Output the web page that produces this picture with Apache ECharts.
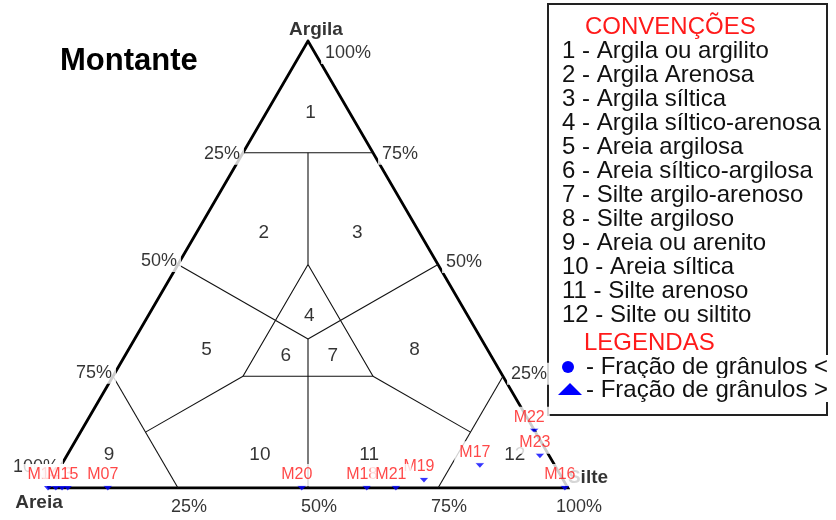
<!DOCTYPE html>
<html>
<head>
<meta charset="utf-8">
<script src="https://cdn.jsdelivr.net/npm/echarts@6/dist/echarts.min.js"></script>
<style>
  html, body { margin: 0; padding: 0; background: #fff; }
  #chart { width: 836px; height: 520px; }
</style>
</head>
<body>
<div id="chart"></div>
<script>
// Sample composition (percent sand / silt / clay)
const sampleNames = ['M12', 'M13', 'M14', 'M15', 'M07', 'M20', 'M18', 'M19', 'M21', 'M17', 'M22', 'M23', 'M16'];
const sampleSand  = [98.5, 97.3, 100, 96.2, 88.5, 51.2, 38.7, 26.8, 33.1, 14.4, 0.1, 1.8, 0.6];
const sampleSilt  = [1.5, 2.7, 0, 3.8, 11.5, 48.8, 61.3, 71.4, 66.9, 80.5, 87.1, 91.0, 99.4];
const sampleClay  = [0, 0, 0, 0, 0, 0, 0, 1.8, 0, 5.1, 12.8, 7.2, 0];

// Shepard class fields: label anchor (silt %, clay %)
const classIds   = ['1', '2', '3', '4', '5', '6', '7', '8', '9', '10', '11', '12'];
const classSilt  = [8.5, 13, 31, 31, 15, 31, 40, 55, 8, 37, 58, 86];
const classClay  = [84, 57, 57, 38.5, 31, 29.5, 29.5, 31, 7.5, 7.5, 7.5, 7.5];

// Class names for the key
const classNames = ['Argila ou argilito', 'Argila Arenosa', 'Argila síltica', 'Argila síltico-arenosa',
  'Areia argilosa', 'Areia síltico-argilosa', 'Silte argilo-arenoso', 'Silte argiloso',
  'Areia ou arenito', 'Areia síltica', 'Silte arenoso', 'Silte ou siltito'];
const symbolNotes = ['Fração de grânulos <', 'Fração de grânulos >'];

// Edge ticks (percent)
const edgeTicks = [25, 50, 75, 100];
const cornerNames = ['Areia', 'Argila', 'Silte'];

// Ternary (silt, clay) -> cartesian (x, y) in the unit frame of the grid
function toXY(silt, clay) {
  return [(silt + clay / 2) / 100, clay / 100];
}

// Class boundaries as (silt, clay) vertex lists
const outline = [[0, 0], [100, 0], [0, 100], [0, 0]];
const boundaries = [
  [[0, 75], [25, 75]],
  [[12.5, 75], [25, 50]],
  [[25, 50], [25, 25], [50, 25], [25, 50]],
  [[100 / 3, 100 / 3], [0, 50]],
  [[100 / 3, 100 / 3], [50, 50]],
  [[100 / 3, 100 / 3], [50, 0]],
  [[0, 25], [25, 0]],
  [[75, 25], [75, 0]],
  [[25, 25], [12.5, 12.5]],
  [[50, 25], [75, 12.5]]
];

const FONT = 'Arial, "Liberation Sans", sans-serif';
const TEXT = '#000';
const RED = '#ff1a1a';

const chart = echarts.init(document.getElementById('chart'), null, { renderer: 'canvas' });

// Tick label placements along each edge
const tickData = [];
edgeTicks.forEach(function (v) {
  // left edge: sand %
  tickData.push({
    name: v + '%', value: toXY(0, 100 - v),
    label: { offset: v === 100 ? [-12, -21] : (v === 25 ? [-21, 1] : [-19, -3.5]) }
  });
  // right edge: clay %
  tickData.push({
    name: v + '%', value: toXY(100 - v, v),
    label: { offset: v === 100 ? [40, 12] : (v === 75 ? [27, 1] : [26, -2.5]) }
  });
  // base: silt %
  tickData.push({
    name: v + '%', value: toXY(v, 0),
    label: { offset: [11, 19] }
  });
});

const cornerData = [
  { name: cornerNames[0], value: toXY(0, 0), label: { offset: [-9, 15] } },
  { name: cornerNames[1], value: toXY(0, 100), label: { offset: [8, -11] } },
  { name: cornerNames[2], value: toXY(100, 0), label: { offset: [20, -10] } }
];

const classData = classIds.map(function (id, i) {
  return { name: id, value: toXY(classSilt[i], classClay[i]) };
});

const sampleData = sampleNames.map(function (n, i) {
  return { name: n, value: toXY(sampleSilt[i], sampleClay[i]), sand: sampleSand[i] };
});

// Key box content
const keyElements = [
  { type: 'rect', shape: { x: 548, y: 4, width: 279, height: 411 },
    style: { fill: '#fff', stroke: '#222', lineWidth: 2 }, z: 1 },
  { type: 'text', x: 585, y: 27, z: 2,
    style: { text: 'CONVENÇÕES', fill: RED, font: '24px ' + FONT, textAlign: 'left', textVerticalAlign: 'middle' } },
  { type: 'text', x: 584, y: 343, z: 2,
    style: { text: 'LEGENDAS', fill: RED, font: '24px ' + FONT, textAlign: 'left', textVerticalAlign: 'middle' } },
  { type: 'circle', shape: { cx: 568, cy: 367, r: 6 }, style: { fill: '#0000ff' }, z: 2 },
  { type: 'polygon', shape: { points: [[558, 395], [582, 395], [570, 383]] }, style: { fill: '#0000ff' }, z: 2 }
];
classNames.forEach(function (n, i) {
  keyElements.push({
    type: 'text', x: 562, y: 51 + 24 * i, z: 2,
    style: { text: (i + 1) + ' - ' + n, fill: '#111', font: '24px ' + FONT, textAlign: 'left', textVerticalAlign: 'middle' }
  });
});
symbolNotes.forEach(function (n, i) {
  keyElements.push({
    type: 'text', x: 586, y: 367 + 23 * i, z: 3,
    style: { text: '- ' + n, fill: '#111', font: '24px ' + FONT, textAlign: 'left', textVerticalAlign: 'middle',
      backgroundColor: '#fff' }
  });
});
keyElements.push({
  type: 'text', x: 60, y: 61, z: 2,
  style: { text: 'Montante', fill: '#000', font: 'bold 31px ' + FONT, textAlign: 'left', textVerticalAlign: 'middle' }
});

const option = {
  animation: false,
  backgroundColor: '#fff',
  grid: { left: 48, top: 41, width: 520, height: 447, containLabel: false },
  xAxis: { type: 'value', min: 0, max: 1, show: false },
  yAxis: { type: 'value', min: 0, max: 1, show: false },
  graphic: { elements: keyElements },
  series: [
    {
      type: 'lines', coordinateSystem: 'cartesian2d', polyline: true, z: 1, silent: true,
      lineStyle: { color: '#000', width: 2.8, opacity: 1 },
      data: [{ coords: outline.map(function (p) { return toXY(p[0], p[1]); }) }]
    },
    {
      type: 'lines', coordinateSystem: 'cartesian2d', polyline: true, z: 1, silent: true,
      lineStyle: { color: '#111', width: 1.1, opacity: 1 },
      data: boundaries.map(function (seg) { return { coords: seg.map(function (p) { return toXY(p[0], p[1]); }) }; })
    },
    {
      type: 'scatter', z: 2, silent: true, symbolSize: 1, itemStyle: { color: 'rgba(0,0,0,0)' },
      label: { show: true, position: 'inside', formatter: '{b}', color: TEXT, fontSize: 19, fontFamily: FONT },
      data: classData
    },
    {
      type: 'scatter', z: 3, silent: true, symbolSize: 1, itemStyle: { color: 'rgba(0,0,0,0)' },
      label: { show: true, position: 'inside', formatter: '{b}', color: TEXT, fontSize: 18, fontFamily: FONT,
        backgroundColor: '#fff', padding: [2, 4] },
      data: tickData
    },
    {
      type: 'scatter', z: 3, silent: true, symbolSize: 1, itemStyle: { color: 'rgba(0,0,0,0)' },
      label: { show: true, position: 'inside', formatter: '{b}', color: '#000', fontSize: 19, fontWeight: 'bold', fontFamily: FONT },
      data: cornerData
    },
    {
      type: 'scatter', z: 10, silent: true,
      symbol: 'path://M0,0L10,0L5,6Z', symbolSize: [9, 5],
      itemStyle: { color: '#0000ff' },
      label: { show: true, position: 'inside', offset: [-5, -13], formatter: '{b}', color: RED,
        fontSize: 16, fontFamily: FONT, backgroundColor: '#fff', padding: [3, 5] },
      data: sampleData
    }
  ]
};

chart.setOption(option);
</script>
</body>
</html>
